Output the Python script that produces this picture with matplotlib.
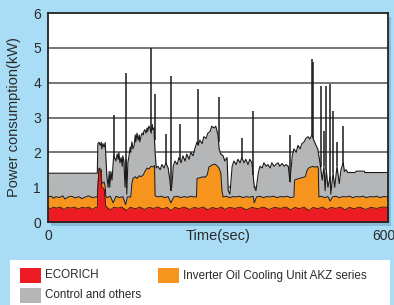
import numpy as np
import matplotlib
matplotlib.use("Agg")
import matplotlib.pyplot as plt
from matplotlib.patches import Rectangle

plt.rcParams['font.family'] = ['Liberation Sans', 'DejaVu Sans']

# ---- data (seconds, kW) ----
total_t = [0, 87, 88, 90, 92, 94, 95, 97, 99, 101, 102, 104, 106, 108, 109, 111, 113, 115, 116,
           120, 122, 124, 125, 127, 129, 131, 132, 134, 136, 138, 139, 141, 143, 145, 146, 148,
           150, 152, 154, 155, 157, 159, 161, 162, 164, 166, 168, 169, 171, 173, 175, 176, 178,
           180, 182, 184, 185, 187, 189, 191, 194, 198, 201, 205, 208, 212, 215, 217, 219, 221,
           224, 228, 231, 235, 238, 242, 245, 249, 252, 256, 259, 263, 265, 268, 272, 275, 279,
           282, 286, 289, 293, 296, 300, 302, 305, 309, 312, 316, 318, 321, 325, 328, 332, 335,
           339, 342, 346, 349, 353, 356, 360, 364, 367, 371, 374, 378, 381, 385, 388, 392, 395,
           399, 402, 406, 409, 413, 417, 420, 424, 427, 431, 434, 438, 441, 445, 448, 452, 455,
           459, 462, 466, 469, 473, 476, 480, 484, 487, 489, 491, 494, 498, 499, 503, 506, 510,
           514, 517, 521, 523, 526, 529, 542, 544, 558, 559, 600]
total_kw = [1.40, 1.40, 2.25, 2.29, 2.20, 2.29, 2.10, 2.25, 2.15, 2.28, 1.90, 1.30, 1.00, 1.45, 1.00, 1.45, 1.20, 1.70, 1.90,
            1.75, 1.95, 1.80, 2.00, 1.70, 1.85, 1.60, 1.90, 1.75, 1.00, 1.80, 0.80, 1.70, 1.90, 2.15, 2.00, 2.30,
            2.10, 2.20, 2.50, 2.30, 2.55, 2.35, 2.50, 2.30, 2.45, 2.55, 2.50, 2.60, 2.65, 2.55, 2.70, 2.60, 2.75,
            2.70, 2.55, 2.80, 2.65, 2.70, 2.00, 1.55, 1.60, 1.50, 1.65, 1.55, 1.70, 1.55, 1.20, 0.90, 1.10, 1.60,
            1.75, 1.65, 1.85, 1.70, 1.90, 1.75, 1.95, 1.80, 2.00, 1.90, 2.10, 2.30, 2.20, 2.35, 2.25, 2.45, 2.40,
            2.55, 2.60, 2.75, 2.70, 2.75, 2.50, 2.10, 1.95, 1.90, 1.75, 1.85, 0.90, 0.80, 1.60, 1.75, 1.65, 1.80,
            1.70, 1.85, 1.70, 1.80, 1.65, 1.80, 1.70, 1.00, 0.90, 1.40, 1.60, 1.55, 1.70, 1.60, 1.65, 1.55, 1.70,
            1.60, 1.65, 1.70, 1.60, 1.68, 1.60, 1.65, 1.60, 1.15, 1.90, 2.10, 2.00, 2.20, 2.10, 2.25, 2.30, 2.40,
            2.45, 2.38, 2.50, 2.35, 2.20, 2.10, 1.70, 1.20, 1.60, 0.90, 1.50, 1.00, 1.30, 0.80, 1.40, 1.00, 1.60,
            1.10, 1.50, 1.70, 1.45, 1.50, 1.42, 1.42, 1.46, 1.46, 1.42, 1.42]

spike_t = [117, 137, 181, 188, 209, 217, 233, 265, 301, 342, 362, 427, 465, 468, 481, 487, 491, 497, 503, 510, 520]
spike_kw = [3.07, 4.28, 5.00, 3.67, 2.53, 4.18, 2.82, 3.81, 3.60, 2.40, 3.19, 2.50, 4.69, 4.60, 3.90, 2.60, 3.90,
            3.95, 3.19, 2.30, 2.75]

inverter_t = [0, 6, 10, 14, 20, 26, 30, 36, 42, 48, 54, 60, 66, 72, 78, 84, 87, 88, 90, 94, 95, 99, 101, 102, 104,
              110, 115, 120, 126, 132, 137, 140, 146, 148, 150, 154, 157, 161, 164, 168, 171, 175, 178, 182, 185,
              188, 189, 194, 200, 206, 212, 217, 222, 228, 234, 240, 246, 252, 258, 262, 263, 268, 274, 277, 281,
              284, 288, 291, 295, 298, 302, 305, 307, 309, 315, 320, 326, 332, 338, 344, 350, 356, 362, 364, 368,
              374, 380, 386, 392, 398, 404, 410, 416, 422, 428, 434, 435, 439, 445, 450, 454, 457, 460, 464, 468,
              471, 475, 477, 478, 482, 488, 494, 498, 502, 508, 514, 520, 526, 532, 538, 544, 550, 556, 562, 568,
              574, 580, 586, 592, 600]
inverter_kw = [0.72, 0.74, 0.68, 0.73, 0.70, 0.75, 0.66, 0.72, 0.74, 0.69, 0.73, 0.67, 0.72, 0.75, 0.70, 0.72, 0.72,
               1.00, 1.55, 1.50, 1.10, 1.15, 1.00, 0.75, 0.70,
               0.74, 0.55, 0.74, 0.70, 0.73, 0.50, 0.72, 0.72, 1.10, 1.25, 1.30, 1.25, 1.33, 1.30, 1.35, 1.45, 1.55,
               1.52, 1.60, 1.58, 1.62, 0.75, 0.72, 0.74, 0.70, 0.73, 0.55, 0.72, 0.74, 0.70, 0.73, 0.71, 0.74, 0.72,
               0.72, 1.25, 1.27, 1.30, 1.28, 1.35, 1.58, 1.62, 1.65, 1.66, 1.62, 1.54, 1.40, 0.90, 0.72, 0.74, 0.70,
               0.73, 0.72, 0.74, 0.70, 0.73, 0.71, 0.74, 0.55, 0.72, 0.74, 0.70, 0.73, 0.72, 0.74, 0.70, 0.73, 0.72,
               0.74, 0.70, 0.72, 1.20, 1.23, 1.26, 1.28, 1.30, 1.48, 1.55, 1.58, 1.60, 1.57, 1.60, 1.55, 0.72, 0.74,
               0.70, 0.73, 0.60, 0.72, 0.74, 0.70, 0.73, 0.72, 0.74, 0.70, 0.73, 0.72, 0.74, 0.70, 0.73, 0.72, 0.74,
               0.70, 0.73, 0.72]

ecorich_t = [0, 5, 9, 15, 22, 28, 34, 40, 47, 53, 60, 66, 72, 78, 84, 87, 88, 90, 93, 95, 99, 102, 104, 110, 116,
             124, 130, 139, 145, 155, 162, 170, 178, 186, 194, 202, 210, 217, 224, 232, 240, 250, 258, 266, 274,
             282, 290, 298, 306, 312, 320, 330, 340, 350, 360, 370, 380, 390, 400, 410, 420, 428, 436, 444, 452,
             460, 468, 476, 484, 492, 500, 508, 516, 524, 532, 540, 550, 560, 570, 580, 590, 600]
ecorich_kw = [0.42, 0.37, 0.43, 0.40, 0.43, 0.36, 0.42, 0.40, 0.43, 0.37, 0.42, 0.40, 0.43, 0.36, 0.42, 0.42,
              1.00, 1.52, 1.45, 1.00, 0.95, 0.45, 0.42, 0.35, 0.42, 0.40, 0.43, 0.33, 0.42, 0.38, 0.43, 0.36,
              0.42, 0.39, 0.43, 0.37, 0.42, 0.33, 0.42, 0.38, 0.43, 0.36, 0.42, 0.39, 0.43, 0.35, 0.42, 0.38,
              0.43, 0.36, 0.42, 0.39, 0.43, 0.35, 0.42, 0.38, 0.43, 0.36, 0.42, 0.39, 0.43, 0.35, 0.42, 0.38,
              0.43, 0.33, 0.42, 0.38, 0.43, 0.36, 0.42, 0.39, 0.43, 0.35, 0.42, 0.38, 0.43, 0.36, 0.42, 0.39,
              0.43, 0.42]

legend_labels = ["ECORICH", "Inverter Oil Cooling Unit AKZ series", "Control and others"]
c_red, c_orange, c_grey = "#ed1c24", "#f7941d", "#b5b6b8"
bg_blue = "#a9ddf6"
txt = "#2a2a2a"

W, H = 394, 305
fig = plt.figure(figsize=(W / 100, H / 100), dpi=100)
fig.patch.set_facecolor(bg_blue)

L, R, T, B = 48, 388, 13, 222
# shadow
fig.patches.append(Rectangle(((L + 3) / W, 1 - (B + 4) / H), (R - L) / W, (B - T) / H,
                             transform=fig.transFigure, facecolor="#86bcd9", edgecolor="none", zorder=0))
ax = fig.add_axes([L / W, 1 - B / H, (R - L) / W, (B - T) / H])
ax.set_facecolor("white")
ax.set_zorder(1)

ax.set_xlim(0, 600)
ax.set_ylim(0, 6)
for y in range(1, 6):
    ax.axhline(y, color="#505050", lw=1.1, zorder=1)

ax.fill_between(total_t, 0, total_kw, color=c_grey, lw=0, zorder=2)
ax.plot(total_t, total_kw, color="#1a1a1a", lw=0.8, zorder=3)
base = np.interp(spike_t, total_t, total_kw)
ax.vlines(spike_t, base, spike_kw, color="#1a1a1a", lw=1.1, zorder=3)

ax.fill_between(inverter_t, 0, inverter_kw, color=c_orange, lw=0, zorder=4)
ax.plot(inverter_t, inverter_kw, color="#1a1a1a", lw=0.7, zorder=5)
ax.fill_between(ecorich_t, 0, ecorich_kw, color=c_red, lw=0, zorder=6)
ax.plot(ecorich_t, ecorich_kw, color="#3a1010", lw=0.6, zorder=7)

for s in ax.spines.values():
    s.set_color("#222222")
    s.set_linewidth(1.3)
    s.set_zorder(10)

ax.set_yticks(range(0, 7))
ax.set_yticklabels([str(i) for i in range(0, 7)], fontsize=10, color=txt)
ax.set_xticks([0, 600])
ax.set_xticklabels(["0", "600"], fontsize=10, color=txt)
ax.get_xticklabels()[1].set_horizontalalignment("left")
ax.get_xticklabels()[1].set_x(600)
ax.tick_params(length=0, pad=5)
ax.xaxis.get_majorticklabels()[1].set_transform(
    ax.xaxis.get_majorticklabels()[1].get_transform() + matplotlib.transforms.ScaledTranslation(-0.16, 0, fig.dpi_scale_trans))
ax.set_xlabel("Time(sec)", fontsize=10.5, color=txt, labelpad=-10)
ax.set_ylabel("Power consumption(kW)", fontsize=10.5, color=txt, labelpad=9)

# legend box
fig.patches.append(Rectangle((10 / W, 0), 380 / W, 45 / H, transform=fig.transFigure,
                             facecolor="white", edgecolor="none", zorder=0))
entries = [(20, 268, c_red, legend_labels[0]), (158, 268, c_orange, legend_labels[1]),
           (20, 288, c_grey, legend_labels[2])]
for x0, y0, c, lab in entries:
    fig.patches.append(Rectangle((x0 / W, 1 - (y0 + 15) / H), 21 / W, 15 / H, transform=fig.transFigure,
                                 facecolor=c, edgecolor="none", zorder=1))
    fig.text((x0 + 25) / W, 1 - (y0 + 7.5) / H, lab, fontsize=8.4, color=txt, va="center", ha="left")

fig.savefig("out.png", dpi=100, facecolor=fig.get_facecolor())
